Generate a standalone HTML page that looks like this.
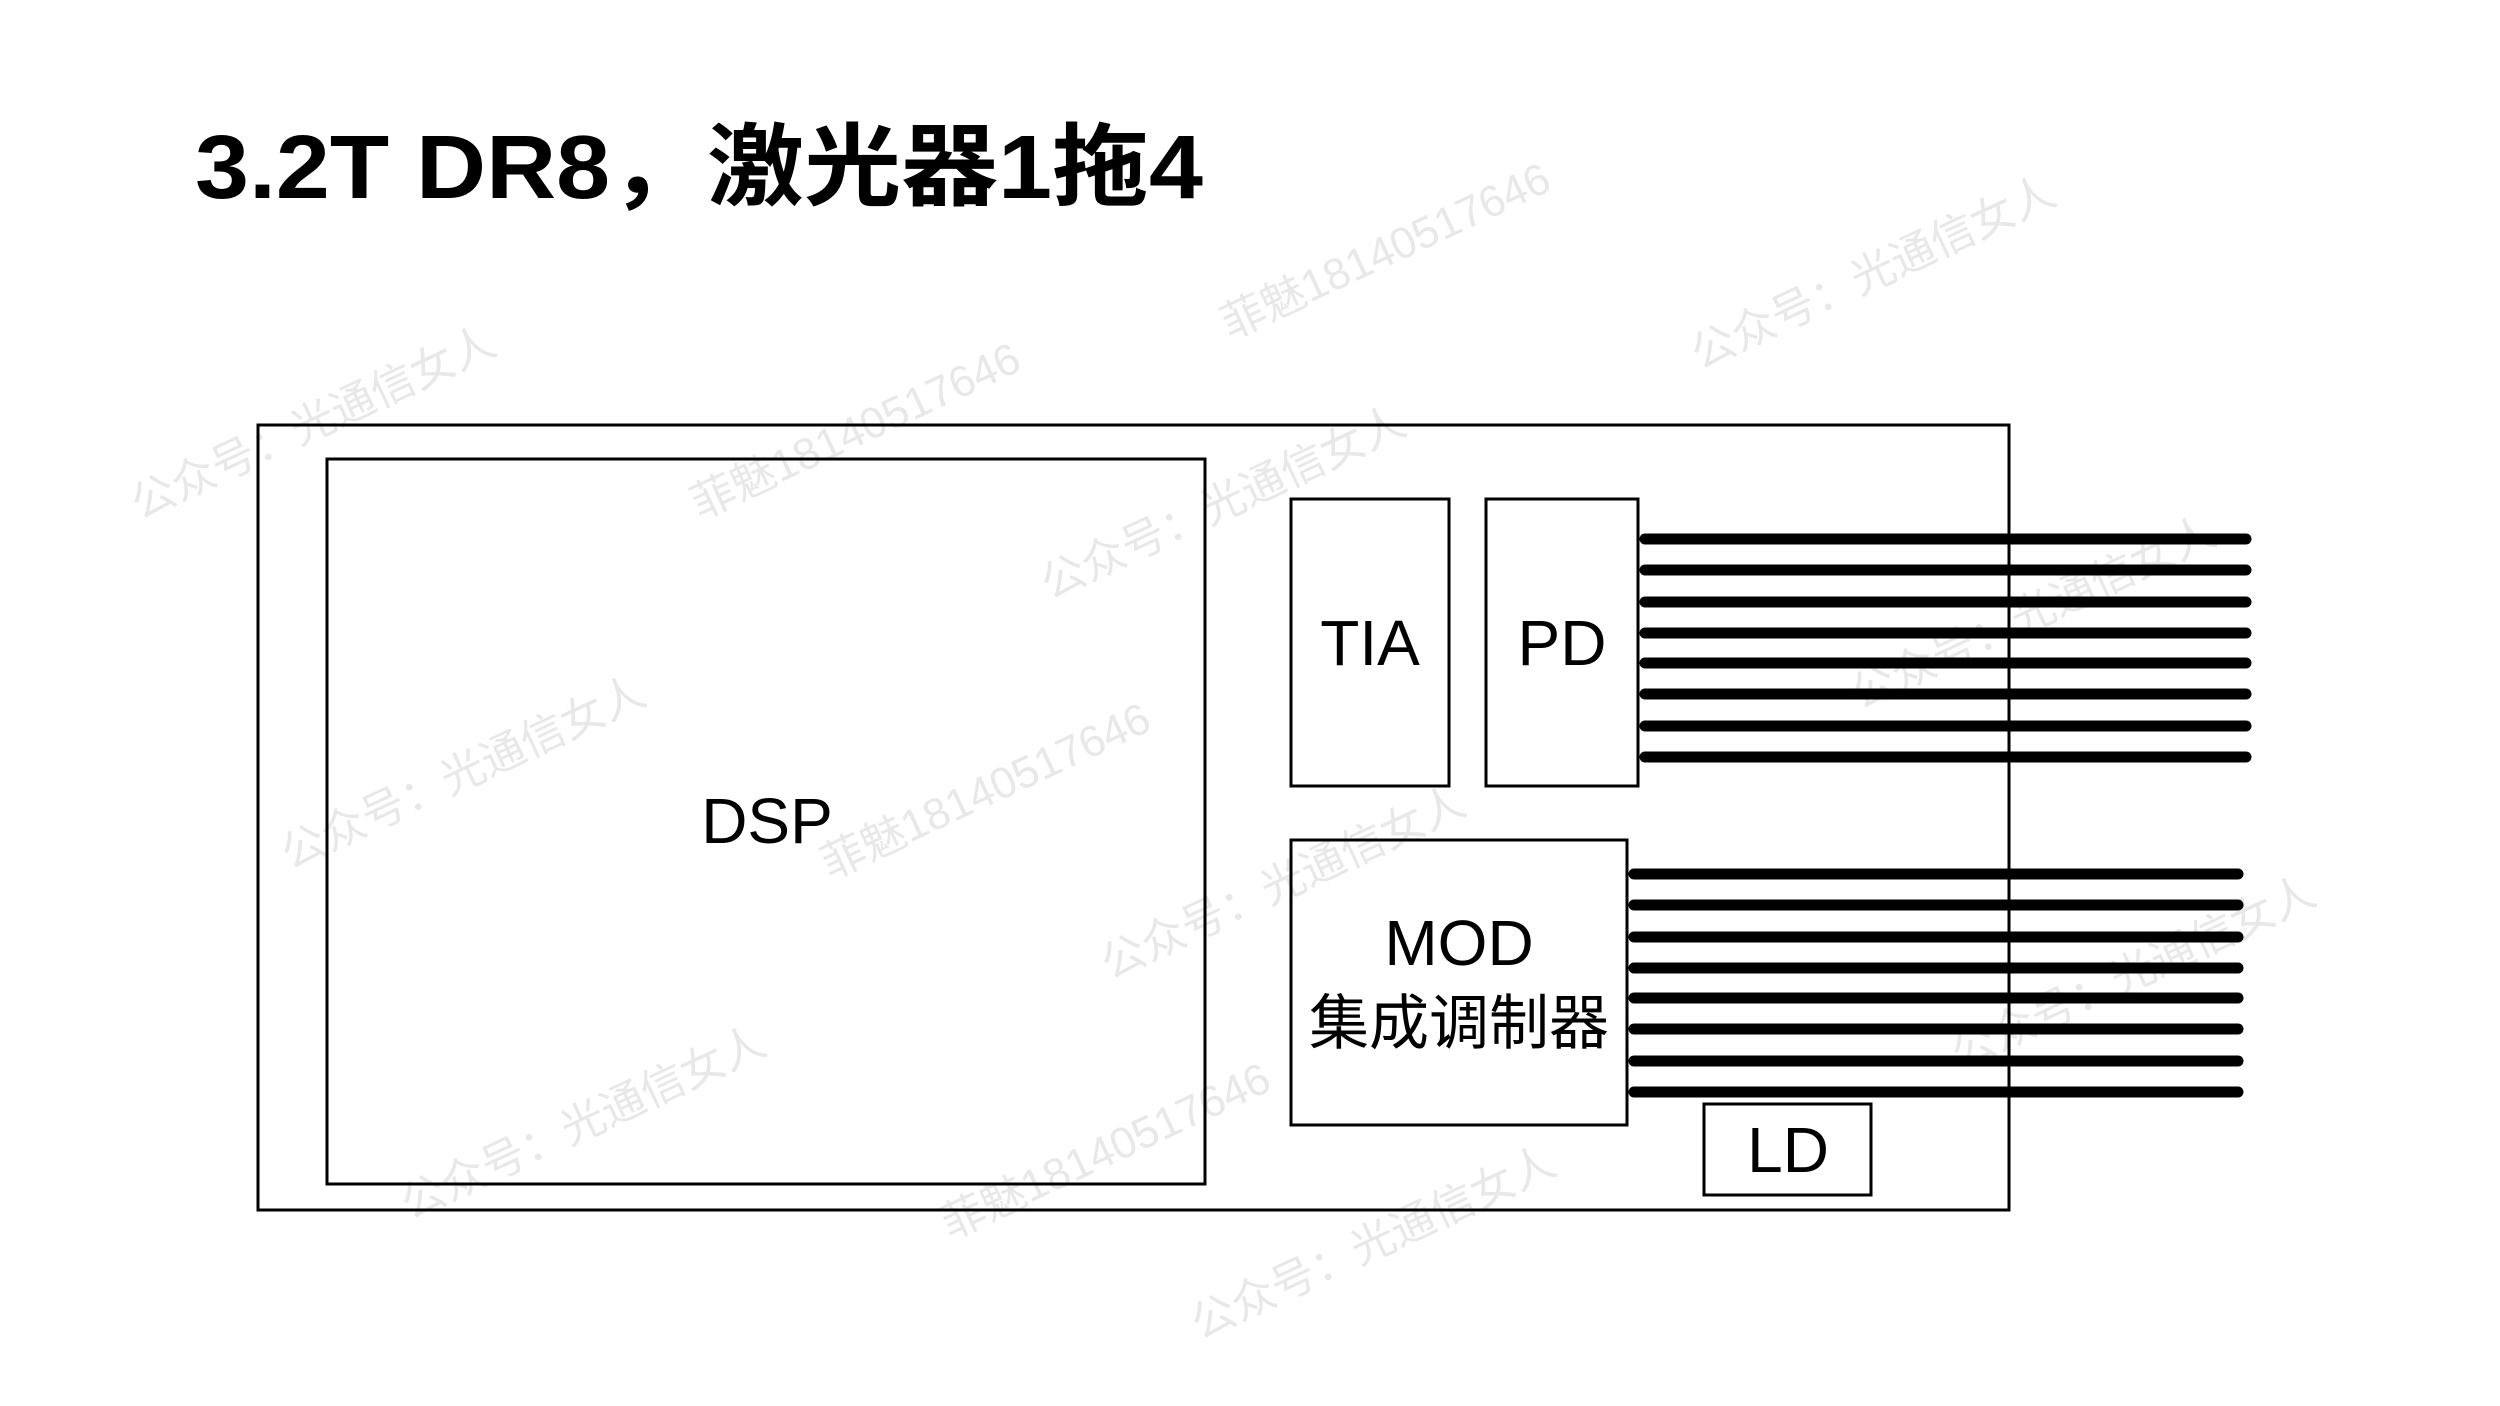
<!DOCTYPE html>
<html><head><meta charset="utf-8"><style>
html,body{margin:0;padding:0;background:#fff;}
svg{display:block;}
text{font-family:"Liberation Sans","Noto Sans CJK SC",sans-serif;fill:#000;}
</style></head><body>
<svg width="2500" height="1406" viewBox="0 0 2500 1406" xmlns="http://www.w3.org/2000/svg">
<rect width="2500" height="1406" fill="#fff"/>
<g font-size="44">
<text transform="translate(140,520) rotate(-25)" style="fill:#e8e8e8">公众号：光通信女人</text>
<text transform="translate(700,520) rotate(-25)" style="fill:#e8e8e8">菲魅18140517646</text>
<text transform="translate(1050,600) rotate(-25)" style="fill:#e8e8e8">公众号：光通信女人</text>
<text transform="translate(1230,340) rotate(-25)" style="fill:#e8e8e8">菲魅18140517646</text>
<text transform="translate(1700,370) rotate(-25)" style="fill:#e8e8e8">公众号：光通信女人</text>
<text transform="translate(290,870) rotate(-25)" style="fill:#e8e8e8">公众号：光通信女人</text>
<text transform="translate(830,880) rotate(-25)" style="fill:#e8e8e8">菲魅18140517646</text>
<text transform="translate(1110,980) rotate(-25)" style="fill:#e8e8e8">公众号：光通信女人</text>
<text transform="translate(410,1220) rotate(-25)" style="fill:#e8e8e8">公众号：光通信女人</text>
<text transform="translate(950,1240) rotate(-25)" style="fill:#e8e8e8">菲魅18140517646</text>
<text transform="translate(1200,1340) rotate(-25)" style="fill:#e8e8e8">公众号：光通信女人</text>
<text transform="translate(1860,710) rotate(-25)" style="fill:#e8e8e8">公众号：光通信女人</text>
<text transform="translate(1960,1070) rotate(-25)" style="fill:#e8e8e8">公众号：光通信女人</text>
</g>
<text x="195" y="198" font-size="90" font-weight="bold" textLength="1008" lengthAdjust="spacingAndGlyphs">3.2T DR8，激光器1拖4</text>
<g fill="none" stroke="#000" stroke-width="3">
<rect x="258" y="425" width="1751" height="785"/>
<rect x="327" y="459" width="878" height="725"/>
<rect x="1291" y="499" width="158" height="287"/>
<rect x="1486" y="499" width="152" height="287"/>
<rect x="1291" y="840" width="336" height="285"/>
<rect x="1704" y="1104" width="167" height="91"/>
</g>
<g stroke="#000" stroke-width="11" stroke-linecap="round">
<line x1="1645" y1="539" x2="2246" y2="539"/>
<line x1="1645" y1="570" x2="2246" y2="570"/>
<line x1="1645" y1="602" x2="2246" y2="602"/>
<line x1="1645" y1="633" x2="2246" y2="633"/>
<line x1="1645" y1="663" x2="2246" y2="663"/>
<line x1="1645" y1="694" x2="2246" y2="694"/>
<line x1="1645" y1="726" x2="2246" y2="726"/>
<line x1="1645" y1="757" x2="2246" y2="757"/>
<line x1="1634" y1="874" x2="2238" y2="874"/>
<line x1="1634" y1="905" x2="2238" y2="905"/>
<line x1="1634" y1="937" x2="2238" y2="937"/>
<line x1="1634" y1="968" x2="2238" y2="968"/>
<line x1="1634" y1="998" x2="2238" y2="998"/>
<line x1="1634" y1="1029" x2="2238" y2="1029"/>
<line x1="1634" y1="1061" x2="2238" y2="1061"/>
<line x1="1634" y1="1092" x2="2238" y2="1092"/>
</g>
<line x1="2009" y1="425" x2="2009" y2="1210" stroke="#000" stroke-width="3"/>
<g font-size="64" text-anchor="middle">
<text x="767" y="843">DSP</text>
<text x="1370" y="665">TIA</text>
<text x="1562" y="665">PD</text>
<text x="1459" y="965">MOD</text>
<text x="1459" y="1044" font-size="60">集成调制器</text>
<text x="1788" y="1172">LD</text>
</g>
</svg>
</body></html>
